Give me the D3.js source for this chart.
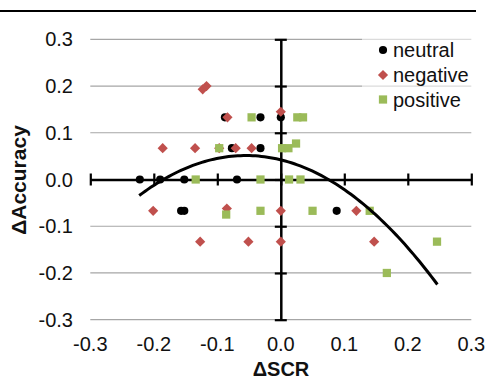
<!DOCTYPE html>
<html>
<head>
<meta charset="utf-8">
<script src="https://cdn.jsdelivr.net/npm/d3@7"></script>
<style>
  body { margin: 0; background: #fff; }
  svg { display: block; font-family: "Liberation Sans", Arial, sans-serif; }
</style>
</head>
<body>
<svg id="chart" width="486" height="381"></svg>
<script>
// ---- data ----
const neutral = [
  [-0.222, 0], [-0.190, 0], [-0.152, 0], [-0.069, 0],
  [-0.157, -0.067], [-0.152, -0.067],
  [-0.088, 0.133], [-0.032, 0.133], [0.0, 0.133],
  [-0.077, 0.067], [-0.032, 0.067],
  [0.088, -0.067]
];
const negative = [
  [-0.123, 0.193], [-0.117, 0.2],
  [0.0, 0.145], [-0.084, 0.133],
  [-0.186, 0.067], [-0.135, 0.067], [-0.097, 0.067], [-0.071, 0.067], [-0.046, 0.067],
  [-0.201, -0.067], [-0.085, -0.062], [0.0, -0.067], [0.119, -0.067],
  [-0.127, -0.133], [-0.051, -0.133], [0.0, -0.133], [0.147, -0.133]
];
const positive = [
  [-0.046, 0.133], [0.026, 0.133], [0.035, 0.133],
  [-0.097, 0.067], [0.002, 0.067], [0.012, 0.067], [0.024, 0.077],
  [-0.134, 0], [-0.032, 0], [0.013, 0], [0.031, 0],
  [-0.086, -0.075], [-0.032, -0.067], [0.050, -0.067], [0.140, -0.067],
  [0.167, -0.2], [0.246, -0.133]
];
const seriesNames = ["neutral", "negative", "positive"];
const xTicks = [-0.3, -0.2, -0.1, 0.0, 0.1, 0.2, 0.3];
const yTicks = [-0.3, -0.2, -0.1, 0.0, 0.1, 0.2, 0.3];
// 2nd-order polynomial trendline: y = a*x^2 + b*x + c, drawn from xMin to xMax
const trendCoefficients = [-3.034, -0.3337, 0.0421];
const trendRange = [-0.223, 0.2466];

// ---- layout ----
const svg = d3.select("#chart");
const x = d3.scaleLinear().domain([-0.3, 0.3]).range([90.3, 471.3]);
const y = d3.scaleLinear().domain([-0.3, 0.3]).range([319.7, 39.3]);
const colors = { neutral: "#000000", negative: "#C0504D", positive: "#9BBB59" };

// top rule
svg.append("line").attr("x1", 0).attr("x2", 476).attr("y1", 11).attr("y2", 11)
  .attr("stroke", "#000").attr("stroke-width", 2.2);

// gridlines
svg.append("g").selectAll("line").data(yTicks.filter(d => d !== 0)).join("line")
  .attr("x1", x(-0.3)).attr("x2", x(0.3))
  .attr("y1", d => y(d)).attr("y2", d => y(d))
  .attr("stroke", "#a6a6a6").attr("stroke-width", 1.2);

// legend background (semi-transparent)
svg.append("rect").attr("x", 362).attr("y", 36).attr("width", 110).attr("height", 76)
  .attr("fill", "#fff").attr("fill-opacity", 0.6);

// x axis at y=0
const xAxis = d3.axisBottom(x).tickValues(xTicks).tickSize(0).tickFormat("");
const gx = svg.append("g").attr("transform", `translate(0,${y(0)})`).call(xAxis);
gx.select(".domain").attr("stroke", "#000").attr("stroke-width", 2.5);
gx.selectAll(".tick").append("line").attr("y1", -6).attr("y2", 6)
  .attr("stroke", "#000").attr("stroke-width", 2.2);

// y axis at x=0
const yAxis = d3.axisLeft(y).tickValues(yTicks).tickSize(0).tickFormat("");
const gy = svg.append("g").attr("transform", `translate(${x(0)},0)`).call(yAxis);
gy.select(".domain").attr("stroke", "#000").attr("stroke-width", 2.5);
gy.selectAll(".tick").append("line").attr("x1", -6).attr("x2", 6)
  .attr("stroke", "#000").attr("stroke-width", 2.2);

// tick labels
svg.append("g").selectAll("text").data(xTicks).join("text")
  .attr("x", d => x(d)).attr("y", 351)
  .attr("text-anchor", "middle").attr("font-size", 20).attr("fill", "#111")
  .text(d => d3.format(".1f")(d).replace("−", "-"));
svg.append("g").selectAll("text").data(yTicks).join("text")
  .attr("x", 73).attr("y", d => y(d)).attr("dy", "0.35em")
  .attr("text-anchor", "end").attr("font-size", 20).attr("fill", "#111")
  .text(d => d3.format(".1f")(d).replace("−", "-"));

// axis titles
svg.append("text").attr("x", 281).attr("y", 376).attr("text-anchor", "middle")
  .attr("font-size", 20).attr("font-weight", "bold").attr("fill", "#111").text("ΔSCR");
svg.append("text").attr("transform", "translate(26,180) rotate(-90)")
  .attr("text-anchor", "middle").attr("font-size", 21).attr("font-weight", "bold")
  .attr("fill", "#111").text("ΔAccuracy");

// markers
const sym = {
  neutral: d3.symbol().type(d3.symbolCircle).size(52),
  negative: d3.symbol().type(d3.symbolSquare).size(52),
  positive: d3.symbol().type(d3.symbolSquare).size(68)
};
const dataBy = { neutral, negative, positive };
seriesNames.forEach(name => {
  svg.append("g").selectAll("path").data(dataBy[name]).join("path")
    .attr("d", sym[name]())
    .attr("transform", d => {
      const t = `translate(${x(d[0])},${y(d[1])})`;
      return name === "negative" ? t + " rotate(45)" : t;
    })
    .attr("fill", colors[name]);
});

// trendline
const [a, b, c] = trendCoefficients;
const xs = d3.range(0, 101).map(i => trendRange[0] + (trendRange[1] - trendRange[0]) * i / 100);
svg.append("path").datum(xs)
  .attr("d", d3.line().x(v => x(v)).y(v => y(a * v * v + b * v + c)))
  .attr("fill", "none").attr("stroke", "#000").attr("stroke-width", 3);

// legend
const legend = svg.append("g");
const ly = [50, 75, 99.5];
seriesNames.forEach((name, i) => {
  legend.append("path").attr("d", sym[name]())
    .attr("transform", `translate(383,${ly[i]})` + (name === "negative" ? " rotate(45)" : ""))
    .attr("fill", colors[name]);
  legend.append("text").attr("x", 393).attr("y", ly[i]).attr("dy", "0.35em")
    .attr("font-size", 20).attr("fill", "#111").text(name);
});
</script>
</body>
</html>
